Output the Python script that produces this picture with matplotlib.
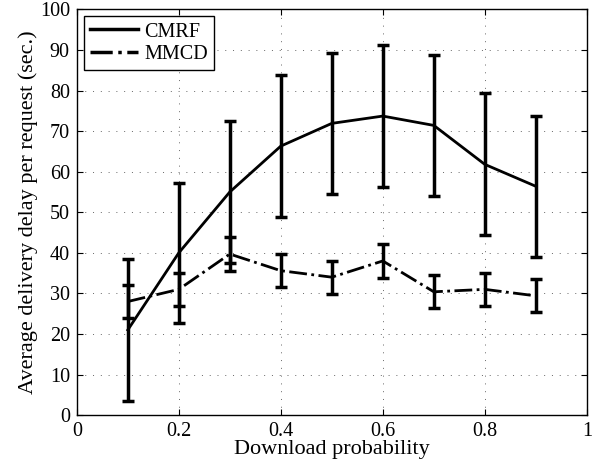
import matplotlib
matplotlib.use("Agg")
import matplotlib.pyplot as plt
from matplotlib.lines import Line2D

plt.rcParams['font.family'] = ['Liberation Serif', 'DejaVu Serif']

x = [0.1, 0.2, 0.3, 0.4, 0.5, 0.6, 0.7, 0.8, 0.9]
cmrf_mean = [21.0, 40.0, 55.0, 66.3, 71.9, 73.7, 71.4, 61.8, 56.4]
cmrf_err = [17.4, 17.3, 17.4, 17.4, 17.4, 17.5, 17.4, 17.5, 17.4]
mmcd_mean = [28.0, 31.0, 39.7, 35.6, 34.0, 38.0, 30.4, 31.0, 29.4]
mmcd_err = [4.0, 4.1, 4.1, 4.1, 4.1, 4.1, 4.1, 4.1, 4.1]

xticks = [0, 0.2, 0.4, 0.6, 0.8, 1]
xticklabels = ['0', '0.2', '0.4', '0.6', '0.8', '1']
yticks = list(range(0, 101, 10))

fig = plt.figure(figsize=(6.0, 4.67), dpi=100)
ax = fig.add_axes([0.128, 0.111, 0.85, 0.869])

ax.errorbar(x, cmrf_mean, yerr=cmrf_err, color='black', linewidth=2.0,
            elinewidth=2.5, capsize=4, capthick=2.5)
ax.errorbar(x, mmcd_mean, yerr=mmcd_err, color='black', linewidth=2.0,
            linestyle='-.', elinewidth=2.5, capsize=4, capthick=2.5)

ax.set_xlim(0, 1)
ax.set_ylim(0, 100)
ax.set_xticks(xticks)
ax.set_xticklabels(xticklabels)
ax.set_yticks(yticks)
ax.grid(True, linestyle=(0, (1, 7)), color='#666666', linewidth=0.7)
ax.tick_params(direction='in', top=True, right=True, labelsize=14.5, length=4, pad=5)
for s in ax.spines.values():
    s.set_linewidth(1.0)

ax.set_xlabel('Download probability', fontsize=16, labelpad=-1)
ax.set_ylabel('Average delivery delay per request (sec.)', fontsize=16, labelpad=1)

handles = [Line2D([], [], color='black', linewidth=2.5, linestyle='-'),
           Line2D([], [], color='black', linewidth=2.5, linestyle='-.')]
leg = ax.legend(handles, ['CMRF', 'MMCD'], loc='upper left', fontsize=14.5,
                fancybox=False, framealpha=1, edgecolor='black',
                handlelength=2.4, borderaxespad=0.35, handletextpad=0.3,
                labelspacing=0.15, borderpad=0.3)
leg.get_frame().set_linewidth(1.0)

fig.savefig('out.png', dpi=100)
